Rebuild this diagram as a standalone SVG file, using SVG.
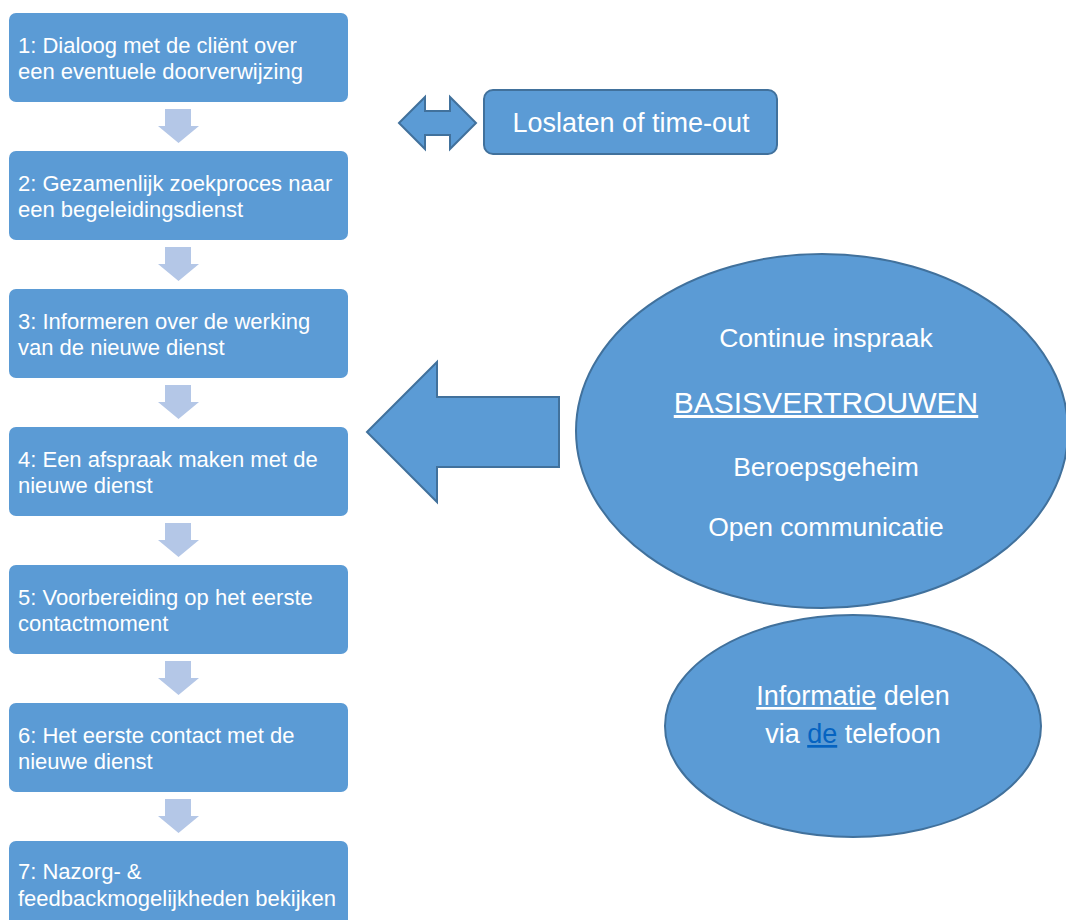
<svg xmlns="http://www.w3.org/2000/svg" width="1066" height="920" viewBox="0 0 1066 920">
<style>
.box{fill:#5b9bd5;}
.bt{font-family:"Liberation Sans",Arial,sans-serif;font-size:22px;fill:#ffffff;}
.sa{fill:#b4c7e7;}
.sh{fill:#5b9bd5;stroke:#41719c;stroke-width:2;}
.ct{font-family:"Liberation Sans",Arial,sans-serif;fill:#ffffff;text-anchor:middle;}
</style>
<rect width="1066" height="920" fill="#ffffff"/>
<g id="connectors">
<path class="sa" d="M165,109 H191 V126 H199 L178.5,143 L158,126 H165 Z"/>
<path class="sa" d="M165,247 H191 V264 H199 L178.5,281 L158,264 H165 Z"/>
<path class="sa" d="M165,385 H191 V402 H199 L178.5,419 L158,402 H165 Z"/>
<path class="sa" d="M165,523 H191 V540 H199 L178.5,557 L158,540 H165 Z"/>
<path class="sa" d="M165,661 H191 V678 H199 L178.5,695 L158,678 H165 Z"/>
<path class="sa" d="M165,799 H191 V816 H199 L178.5,833 L158,816 H165 Z"/>
<path class="sh" d="M399,123 L425,97 L425,111 L450,111 L450,97 L476,123 L450,149 L450,135 L425,135 L425,149 Z"/>
<path class="sh" d="M367,432 L437,362 L437,397 L559,397 L559,467 L437,467 L437,502 Z"/>
</g>
<g id="step1"><rect class="box" x="9" y="13" width="339" height="89" rx="7"/><text class="bt" x="18" y="53">1: Dialoog met de cliënt over</text><text class="bt" x="18" y="79">een eventuele doorverwijzing</text></g>
<g id="step2"><rect class="box" x="9" y="151" width="339" height="89" rx="7"/><text class="bt" x="18" y="191">2: Gezamenlijk zoekproces naar</text><text class="bt" x="18" y="217">een begeleidingsdienst</text></g>
<g id="step3"><rect class="box" x="9" y="289" width="339" height="89" rx="7"/><text class="bt" x="18" y="329">3: Informeren over de werking</text><text class="bt" x="18" y="355">van de nieuwe dienst</text></g>
<g id="step4"><rect class="box" x="9" y="427" width="339" height="89" rx="7"/><text class="bt" x="18" y="467">4: Een afspraak maken met de</text><text class="bt" x="18" y="493">nieuwe dienst</text></g>
<g id="step5"><rect class="box" x="9" y="565" width="339" height="89" rx="7"/><text class="bt" x="18" y="605">5: Voorbereiding op het eerste</text><text class="bt" x="18" y="631">contactmoment</text></g>
<g id="step6"><rect class="box" x="9" y="703" width="339" height="89" rx="7"/><text class="bt" x="18" y="743">6: Het eerste contact met de</text><text class="bt" x="18" y="769">nieuwe dienst</text></g>
<g id="step7"><rect class="box" x="9" y="841" width="339" height="89" rx="7"/><text class="bt" x="18" y="879">7: Nazorg- &amp;</text><text class="bt" x="18" y="906">feedbackmogelijkheden bekijken</text></g>
<g id="loslaten"><rect class="sh" x="484" y="90" width="293" height="64" rx="9"/><text class="ct" x="631" y="132" font-size="27">Loslaten of time-out</text></g>
<g id="basisvertrouwen"><ellipse class="sh" cx="822" cy="431" rx="246" ry="177"/>
<text class="ct" x="826" y="347" font-size="26.5">Continue inspraak</text>
<text class="ct" x="826" y="413" font-size="30" text-decoration="underline">BASISVERTROUWEN</text>
<text class="ct" x="826" y="476" font-size="26.5">Beroepsgeheim</text>
<text class="ct" x="826" y="536" font-size="26.5">Open communicatie</text>
</g>
<g id="informatie"><ellipse class="sh" cx="853" cy="726" rx="188" ry="111"/>
<text class="ct" x="853" y="705" font-size="27"><tspan text-decoration="underline">Informatie</tspan> delen</text>
<text class="ct" x="853" y="743" font-size="27">via <tspan fill="#0563c1" text-decoration="underline">de</tspan> telefoon</text>
</g>
</svg>
